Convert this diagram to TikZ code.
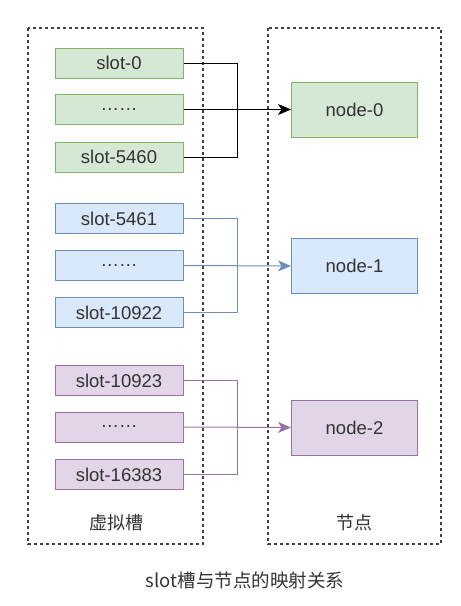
\documentclass[tikz,border=0pt]{standalone}
\usepackage{fontspec}
\setmainfont{Liberation Sans}
\newfontfamily\cjk{Noto Sans CJK SC}
\usetikzlibrary{arrows.meta}
\definecolor{gfill}{HTML}{D5E8D4}\definecolor{gline}{HTML}{82B366}
\definecolor{bfill}{HTML}{DAE8FC}\definecolor{bline}{HTML}{6C8EBF}
\definecolor{pfill}{HTML}{E1D5E7}\definecolor{pline}{HTML}{9673A6}
\definecolor{txt}{HTML}{333333}
\begin{document}
\begin{tikzpicture}[x=1pt,y=-1pt,
  slotbox/.style={draw=#1line,fill=#1fill,line width=1pt,minimum width=128pt,minimum height=30pt,inner sep=0pt,font=\fontsize{18.5}{21}\selectfont,text=txt},
  nodebox/.style={draw=#1line,fill=#1fill,line width=1pt,minimum width=126pt,minimum height=55pt,inner sep=0pt,font=\fontsize{18.5}{21}\selectfont,text=txt},
  group/.style={draw=black!75,dashed,dash pattern=on 3pt off 3pt,line width=1.2pt},
  link/.style={line width=1pt,draw=#1},
  arr/.style={line width=1pt,draw=#1,-{Stealth[length=13pt,width=11pt,inset=3.5pt]}},
  lbl/.style={font=\cjk\fontsize{18}{21}\selectfont,text=txt}]
\useasboundingbox (0,0) rectangle (461,606);
\draw[group] (28,28) rectangle (203,544);
\draw[group] (268,28) rectangle (441,544);
% green
\node[slotbox=g] (s0) at (119,63) {slot-0};
\node[slotbox=g] (s1) at (119,109.5) {……};
\node[slotbox=g] (s2) at (119,157) {slot-5460};
\node[nodebox=g] (n0) at (354.5,109.5) {node-0};
% blue
\node[slotbox=b] (b0) at (119,218.5) {slot-5461};
\node[slotbox=b] (b1) at (119,265.5) {……};
\node[slotbox=b] (b2) at (119,312.5) {slot-10922};
\node[nodebox=b] (n1) at (354.5,266) {node-1};
% purple
\node[slotbox=p] (p0) at (119,380.5) {slot-10923};
\node[slotbox=p] (p1) at (119,427) {……};
\node[slotbox=p] (p2) at (119,474.5) {slot-16383};
\node[nodebox=p] (n2) at (354.5,427.5) {node-2};
% labels
\node[lbl] (l1) at (116,523) {虚拟槽};
\node[lbl] (l2) at (354,523) {节点};
\node[font=\cjk\fontsize{18.5}{21}\selectfont,text=txt] (cap) at (245,580) {slot槽与节点的映射关系};
% connectors
\coordinate (jg) at (237.5,0);
\draw[link=black] (s0.east) -| (jg |- s2.east) -- (s2.east);
\draw[arr=black] (s1.east) -- (n0.west);
\draw[link=bline] (b0.east) -| (jg |- b2.east) -- (b2.east);
\draw[arr=bline] (b1.east) -- (n1.west);
\draw[link=pline] (p0.east) -| (jg |- p2.east) -- (p2.east);
\draw[arr=pline] (p1.east) -- (n2.west);
\end{tikzpicture}
\end{document}
